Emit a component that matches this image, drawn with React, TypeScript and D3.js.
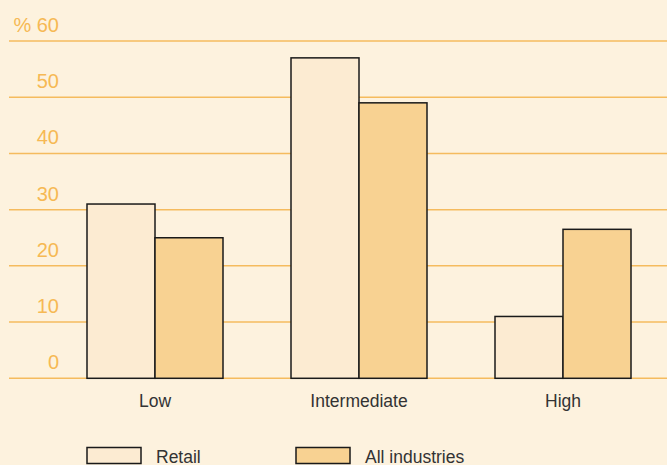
import React from "react";
import * as d3 from "d3";

// Share of firms by level, in percent
const categories = ["Low", "Intermediate", "High"];
const seriesNames = ["Retail", "All industries"];
const retailValues = [31, 57, 11];
const allIndustriesValues = [25, 49, 26.5];
const yTicks = [0, 10, 20, 30, 40, 50, 60];

const W = 667;
const H = 465;
const BG = "#fdf2de";
const FILLS = ["#fcebd2", "#f8d292"];
const GRID = "#f5bb5e";
const TICK_TEXT = "#f6b954";
const FONT = "'Liberation Sans', Arial, sans-serif";

export default function App() {
  const y = d3.scaleLinear().domain([0, 60]).range([378.3, 41]);
  const x0 = d3.scaleBand<string>().domain(categories).range([53, 665]);
  const x1 = d3.scaleBand<string>().domain(seriesNames).range([0, 136]);
  const series = [retailValues, allIndustriesValues];

  return (
    <svg
      width={W}
      height={H}
      style={{ position: "absolute", left: 0, top: 0, display: "block" }}
      fontFamily={FONT}
    >
      <rect x={0} y={0} width={W} height={H} fill={BG} />
      {yTicks.map((t) => (
        <g key={t}>
          <line x1={9} x2={W} y1={y(t)} y2={y(t)} stroke={GRID} strokeWidth={1.5} />
          <text
            x={59}
            y={y(t) - 9}
            textAnchor="end"
            fontSize={20}
            fill={TICK_TEXT}
          >
            {t === 60 ? "% 60" : String(t)}
          </text>
        </g>
      ))}
      {categories.map((c, ci) => {
        const left = (x0(c) as number) + x0.bandwidth() / 2 - 68;
        return (
          <g key={c}>
            {seriesNames.map((s, si) => (
              <rect
                key={s}
                x={left + (x1(s) as number)}
                y={y(series[si][ci])}
                width={x1.bandwidth()}
                height={y(0) - y(series[si][ci])}
                fill={FILLS[si]}
                stroke="#1a1a1a"
                strokeWidth={1.5}
              />
            ))}
            <text
              x={(x0(c) as number) + x0.bandwidth() / 2}
              y={407}
              textAnchor="middle"
              fontSize={17.5}
              fill="#333"
            >
              {c}
            </text>
          </g>
        );
      })}
      {seriesNames.map((s, si) => {
        const lx = si === 0 ? 87 : 296;
        return (
          <g key={s}>
            <rect
              x={lx}
              y={447.5}
              width={54}
              height={16}
              fill={FILLS[si]}
              stroke="#1a1a1a"
              strokeWidth={1.5}
            />
            <text x={lx + 69} y={463} fontSize={17.5} fill="#333">
              {s}
            </text>
          </g>
        );
      })}
    </svg>
  );
}
